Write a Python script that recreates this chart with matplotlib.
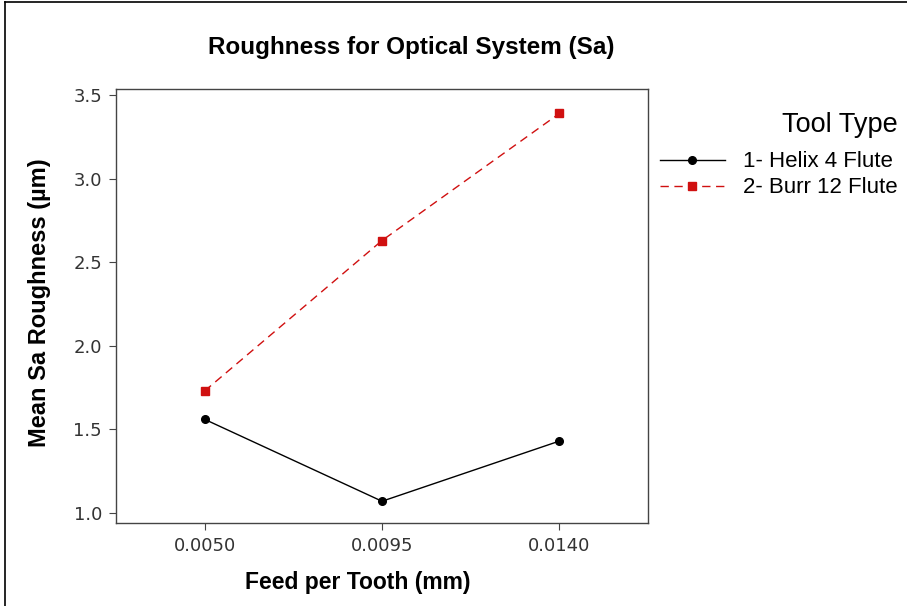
import matplotlib.pyplot as plt
from matplotlib.lines import Line2D

feed = ['0.0050', '0.0095', '0.0140']
helix = [1.56, 1.07, 1.43]
burr = [1.73, 2.63, 3.39]
series_names = ['1- Helix 4 Flute', '2- Burr 12 Flute']
legend_title = 'Tool Type'
yticks = [1.0, 1.5, 2.0, 2.5, 3.0, 3.5]

fig = plt.figure(figsize=(9.07, 6.06), dpi=100)
ax = fig.add_axes([0.1279, 0.137, 0.5866, 0.716])

x = range(len(feed))
ax.plot(x, helix, color='black', lw=1.0, marker='o', ms=5.5, label=series_names[0])
ax.plot(x, burr, color='#d01010', lw=1.0, ls=(0, (6, 4)), marker='s', ms=5.5,
        label=series_names[1])

ax.set_xlim(-0.5, 2.5)
ax.set_ylim(0.94, 3.536)
ax.set_xticks(list(x))
ax.set_xticklabels(feed)
ax.set_yticks(yticks)
ax.set_yticklabels([f'{v:.1f}' for v in yticks])
ax.tick_params(direction='out', length=5, width=0.8, color='#444444',
               labelsize=13, labelcolor='#333333', pad=5)
for s in ax.spines.values():
    s.set_color('#444444')
    s.set_linewidth(1.0)

fig.text(0.453, 0.922, 'Roughness for Optical System (Sa)', ha='center', va='center',
         fontsize=17.5, fontweight='bold', family='Liberation Sans')
fig.text(0.394, 0.038, 'Feed per Tooth (mm)', ha='center', va='center',
         fontsize=16.5, fontweight='bold', family='Liberation Sans')
fig.text(0.044, 0.5, 'Mean Sa Roughness (µm)', ha='center', va='center', rotation=90,
         fontsize=17, fontweight='bold', family='Liberation Sans')

# legend title drawn separately so the gap below it matches
fig.text(0.99, 1 - 125 / 606, legend_title, ha='right', va='center',
         fontsize=19.5, family='Liberation Sans')
leg = ax.legend(loc='upper right', bbox_to_anchor=(0.995, 1 - 147 / 606),
                bbox_transform=fig.transFigure, frameon=False,
                prop={'family': 'Liberation Sans', 'size': 16}, handlelength=2.9,
                handletextpad=0.85, labelspacing=0.22, borderpad=0.2, borderaxespad=0)

# outer frame lines (top and left)
fig.add_artist(Line2D([0.005, 0.005], [0.0, 0.996], color='black', lw=1.2))
fig.add_artist(Line2D([0.005, 1.0], [0.996, 0.996], color='black', lw=1.2))

fig.savefig('out.png', dpi=100)
